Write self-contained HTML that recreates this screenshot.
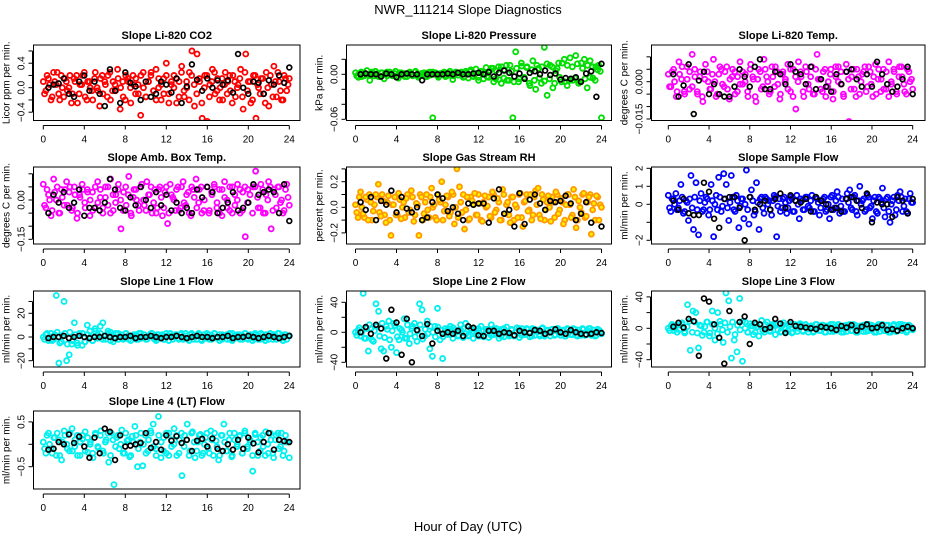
<!DOCTYPE html>
<html><head><meta charset="utf-8"><style>
html,body{margin:0;padding:0;background:#fff;}
svg{display:block;font-family:"Liberation Sans",Arial,sans-serif;}
</style></head><body>
<svg id="chart" width="936" height="540" viewBox="0 0 936 540" xmlns="http://www.w3.org/2000/svg">
<rect x="0" y="0" width="936" height="540" fill="#fff"/>
<text x="468" y="14" text-anchor="middle" font-size="13">NWR_111214  Slope Diagnostics</text>
<text x="468" y="531" text-anchor="middle" font-size="13">Hour of Day (UTC)</text>
</svg>
<script>
// ---- data (time spans 0..24 h) ----
const titles = ["Slope Li-820 CO2","Slope Li-820 Pressure","Slope Li-820 Temp.","Slope Amb. Box Temp.","Slope Gas Stream RH","Slope Sample Flow","Slope Line 1 Flow","Slope Line 2 Flow","Slope Line 3 Flow","Slope Line 4 (LT) Flow"];
const units = ["Licor ppm per min.","kPa per min.","degrees C per min.","degrees C per min.","percent per min.","ml/min per min.","ml/min per min.","ml/min per min.","ml/min per min.","ml/min per min."];
const xTicks = [0,4,8,12,16,20,24];

const co2 = [0.1,-0.05,0.15,-0.2,0.25,0.05,-0.1,0.2,-0.15,0.1,0.0,-0.25,0.15,0.2,-0.1,0.05,0.25,-0.2,0.1,-0.05,0.15,0.0,-0.3,0.2,0.1,-0.15,0.25,-0.05,0.05,0.3,-0.35,0.1,-0.2,0.15,0.0,0.2,-0.1,0.05,-0.45,0.25,-0.15,0.1,0.2,-0.05,0.3,0.0,-0.2,0.15,0.4,-0.1,0.05,0.2,-0.25,0.1,0.35,-0.15,0.0,0.25,0.6,-0.3,0.55,0.1,-0.5,0.2,-0.55,0.05,0.3,-0.1,0.15,0.0,-0.2,0.25,0.1,-0.05,0.2,-0.15,0.05,0.3,-0.35,0.55,0.1,-0.25,0.2,-0.5,0.0,0.15,-0.1,0.25,-0.3,0.05,0.35,-0.15,0.1,-0.2,0.2,-0.05,0.15];
const co2B = [-0.1,0.2,0.05,-0.15,0.1,0.25,-0.2,0.0,0.15,-0.05,0.2,-0.1,0.1,-0.25,0.05,0.2,-0.15,0.1,0.0,-0.2,0.25,-0.05,0.15,-0.1,0.05,0.2,-0.2,0.1,-0.05,0.15,0.0,-0.15,0.2,0.1,-0.25,0.05,0.15,-0.1,0.2,0.0,-0.15,0.1,0.25,-0.05,-0.2,0.15,0.05,-0.1,0.2,-0.25,0.1,0.0,0.15,-0.15,0.25,-0.05,0.1,-0.2,0.2,0.05,-0.1,0.15,-0.25,0.0,0.2,-0.15,0.1,0.25,-0.05,-0.2,0.15,0.05,-0.1,0.2,-0.25,0.1,0.0,0.15,-0.15,0.25,-0.05,0.1,-0.2,0.2,0.05,-0.1,0.15,-0.25,0.0,0.2,-0.15,0.1,0.25,-0.05,-0.2,0.15,0.05];
const co2K = [0.0,0.05,0.07,0.15,-0.1,-0.15,0.1,0.2,-0.05,0.1,-0.1,-0.3,0.3,-0.05,-0.25,0.25,0.08,0.02,-0.2,0.1,-0.15,-0.1,0.1,0.05,-0.08,0.15,-0.25,0.02,0.38,0.13,-0.05,0.15,0.0,0.12,0.05,0.12,-0.08,0.55,0.0,-0.1,0.1,0.08,-0.1,0.12,0.05,0.2,0.08,0.33];
const pres = [0.002,-0.004,0.003,-0.002,0.005,-0.008,0.001,0.004,-0.003,0.002,-0.006,0.003,0.0,-0.002,0.004,-0.005,0.002,0.001,-0.003,0.003,-0.002,0.004,-0.004,0.001,0.002,-0.003,0.003,-0.058,0.002,-0.004,0.001,0.003,-0.002,0.004,-0.007,0.002,-0.001,0.003,-0.003,0.002,0.004,-0.002,0.001,-0.004,0.003,0.002,-0.003,0.005,0.008,-0.006,0.01,-0.012,0.006,-0.008,0.012,-0.058,0.03,-0.01,0.015,-0.005,0.01,-0.015,0.018,-0.02,0.008,-0.012,0.036,-0.028,0.012,-0.018,0.005,0.015,-0.01,0.02,-0.015,0.022,-0.008,0.025,-0.012,0.015,0.02,-0.018,0.018,-0.005,0.01,0.012,-0.058];
const presB = [-0.002,0.001,-0.003,0.002,0.0,-0.001,0.003,-0.002,0.001,-0.003,0.002,0.0,-0.002,0.003,-0.001,0.001,-0.002,0.002,0.0,-0.003,0.001,0.002,-0.001,0.003,-0.002,0.0,0.001,-0.003,0.002,-0.001,0.003,0.0,-0.002,0.001,0.002,-0.003,0.0,0.001,-0.002,0.003,-0.001,0.002,-0.004,0.004,-0.005,0.006,-0.003,0.007,-0.008,0.004,-0.006,0.009,-0.004,0.008,-0.01,0.005,-0.007,0.01,-0.005,0.012,-0.008,0.004,-0.01,0.008,-0.006,0.011,-0.004,0.009,-0.012,0.006,-0.008,0.012,-0.005,0.01,-0.009,0.014,-0.006,0.01,-0.012,0.008,-0.004,0.015,-0.01,0.012,-0.008,0.01,-0.005,0.014,-0.01,0.008,-0.006,0.012,-0.004,0.01,-0.008,0.006,0.004];
const presK = [0,0.001,0,0,-0.003,0.001,0,-0.004,0,0.001,0,0,-0.008,0,0,0,0,0.001,0,0.002,0,0,0.001,0.002,0,0.003,-0.003,0.002,0.005,0.002,-0.003,0.001,-0.006,0.002,0.004,0,0.005,-0.001,0.001,-0.007,-0.005,-0.006,-0.004,-0.01,0.001,0.004,-0.03,0.014];
const temp = [0.003,-0.002,0.005,-0.006,0.008,0.001,-0.004,0.006,-0.003,0.011,0.002,-0.005,0.004,-0.008,0.007,0.0,-0.003,0.009,-0.006,0.003,0.005,-0.002,0.006,-0.007,0.002,0.004,-0.004,0.008,-0.001,0.003,-0.006,0.007,0.001,-0.008,0.005,-0.003,0.009,0.002,-0.005,0.006,-0.002,0.004,-0.007,0.003,0.0,0.007,-0.004,0.005,-0.011,0.008,0.002,-0.006,0.004,-0.003,0.006,-0.005,0.011,0.001,-0.004,0.005,-0.002,0.003,-0.007,0.006,0.0,0.004,-0.006,0.007,-0.016,0.002,-0.003,0.005,-0.005,0.003,0.006,-0.002,0.004,-0.006,0.007,0.001,-0.004,0.005,-0.003,0.008,-0.001,0.004,-0.005,0.006,0.002,-0.004,0.005,0.0,-0.003];
const tempB = [-0.002,0.004,0.0,-0.004,0.003,0.006,-0.005,0.001,0.004,-0.002,0.005,-0.004,0.002,-0.006,0.001,0.004,-0.003,0.003,0.0,-0.005,0.006,-0.001,0.004,-0.003,0.001,0.005,-0.005,0.002,-0.001,0.004,0.0,-0.004,0.005,0.002,-0.006,0.001,0.004,-0.002,0.005,0.0,-0.004,0.002,0.006,-0.001,-0.005,0.004,0.001,-0.003,0.005,-0.006,0.002,0.0,0.004,-0.004,0.006,-0.001,0.002,-0.005,0.005,0.001,-0.003,0.004,-0.006,0.0,0.005,-0.004,0.002,0.006,-0.001,-0.005,0.004,0.001,-0.003,0.005,-0.006,0.002,0.0,0.004,-0.004,0.006,-0.001,0.002,-0.005,0.005,0.001,-0.003,0.004,-0.006,0.0,0.005,-0.004,0.002,0.006,-0.001,-0.005,0.004,0.001];
const tempK = [0.003,-0.006,-0.0015,0.007,-0.013,0.0005,0.004,-0.005,-0.001,-0.005,-0.006,-0.006,-0.002,0.005,0.002,-0.002,0.006,0.009,-0.003,-0.003,0.004,0.003,-0.001,0.007,0.004,0.003,-0.001,0.006,-0.003,0.001,-0.002,-0.004,0.003,-0.001,0.004,0.005,0.001,-0.002,0.003,-0.002,0.008,0.003,-0.001,-0.004,-0.002,0.001,0.006,-0.005];
const amb = [0.06,-0.03,0.02,-0.06,0.08,0.0,-0.05,0.04,-0.02,0.07,0.03,-0.04,0.05,-0.07,0.02,0.06,-0.01,0.04,-0.06,0.03,-0.03,0.07,0.01,-0.05,0.05,-0.02,0.08,-0.04,0.02,0.06,-0.11,0.03,-0.02,0.09,-0.06,0.04,0.0,-0.04,0.06,-0.02,0.07,0.02,-0.05,0.04,-0.03,0.05,-0.06,0.03,-0.09,0.06,0.01,-0.04,0.05,-0.03,0.07,-0.02,0.03,-0.06,0.04,0.08,-0.01,0.05,-0.04,0.17,-0.05,0.03,0.06,-0.03,0.04,-0.06,0.07,0.0,-0.04,0.05,-0.02,0.06,-0.05,0.03,-0.14,0.04,-0.18,0.05,0.11,-0.03,0.06,-0.05,0.02,0.07,-0.11,0.04,-0.03,0.05,0.0,-0.04,0.06,-0.02];
const ambB = [-0.02,0.04,0.0,-0.04,0.03,0.05,-0.05,0.01,0.04,-0.02,0.05,-0.03,0.02,-0.05,0.01,0.04,-0.03,0.03,0.0,-0.04,0.05,-0.01,0.04,-0.03,0.01,0.05,-0.05,0.02,-0.01,0.04,0.0,-0.04,0.05,0.02,-0.05,0.01,0.04,-0.02,0.05,0.0,-0.04,0.02,0.05,-0.01,-0.05,0.04,0.01,-0.03,0.05,-0.05,0.02,0.0,0.04,-0.04,0.05,-0.01,0.02,-0.05,0.05,0.01,-0.03,0.04,-0.05,0.0,0.05,-0.04,0.02,0.05,-0.01,-0.05,0.04,0.01,-0.03,0.05,-0.05,0.02,0.0,0.04,-0.04,0.05,-0.01,0.02,-0.05,0.05,0.01,-0.03,0.04,-0.05,0.0,0.05,-0.04,0.02,0.05,-0.01,-0.05,0.04,0.01];
const ambK = [-0.05,0.02,-0.01,0.03,-0.03,-0.01,0.04,-0.06,-0.03,-0.03,-0.04,-0.01,0.08,0.04,-0.03,-0.04,0.01,-0.02,0.05,0.0,-0.03,0.03,-0.02,0.02,-0.04,-0.01,-0.05,-0.03,-0.05,0.04,0.01,0.05,0.03,-0.05,-0.03,-0.01,0.03,-0.04,-0.03,-0.01,0.06,0.02,0.03,0.04,0.03,-0.05,0.06,-0.08];
const rh = [0.02,-0.08,0.12,-0.05,0.08,-0.1,0.04,-0.03,0.1,0.18,-0.07,0.05,-0.12,0.09,-0.22,0.02,-0.06,0.11,-0.09,0.04,0.07,-0.04,0.13,-0.11,0.03,-0.22,0.08,-0.05,0.1,-0.08,0.15,0.02,-0.1,0.06,0.2,-0.03,0.09,-0.07,0.12,-0.13,0.3,0.16,-0.04,-0.17,0.08,-0.09,0.05,0.11,-0.06,0.03,-0.11,0.09,0.01,-0.07,0.12,-0.04,0.07,-0.1,0.14,-0.05,0.04,-0.12,0.08,0.02,-0.08,0.11,-0.15,0.05,-0.03,0.1,-0.06,0.13,0.15,-0.09,0.06,-0.02,0.09,-0.11,0.04,0.12,-0.05,0.07,-0.13,0.02,0.1,-0.08,0.14,-0.16,0.05,-0.04,0.11,-0.07,0.08,-0.21,0.03,0.09,-0.1,0.0];
const rhB = [-0.04,0.08,0.0,-0.08,0.06,0.1,-0.1,0.02,0.08,-0.04,0.1,-0.06,0.04,-0.1,0.02,0.08,-0.06,0.06,0.0,-0.08,0.1,-0.02,0.08,-0.06,0.02,0.1,-0.1,0.04,-0.02,0.08,0.0,-0.08,0.1,0.04,-0.1,0.02,0.08,-0.04,0.1,0.0,-0.08,0.04,0.1,-0.02,-0.1,0.08,0.02,-0.06,0.1,-0.1,0.04,0.0,0.08,-0.08,0.1,-0.02,0.04,-0.1,0.1,0.02,-0.06,0.08,-0.1,0.0,0.1,-0.08,0.04,0.1,-0.02,-0.1,0.08,0.02,-0.06,0.1,-0.1,0.04,0.0,0.08,-0.08,0.1,-0.02,0.04,-0.1,0.1,0.02,-0.06,0.08,-0.1,0.0,0.1,-0.08,0.04,0.1,-0.02,-0.1,0.08,0.02];
const rhK = [0.04,-0.02,0.08,-0.1,0.05,0.02,0.13,-0.04,0.08,-0.01,-0.04,0.0,-0.1,-0.08,0.04,0.1,0.07,-0.03,0.0,-0.05,-0.1,0.03,0.02,0.03,0.03,-0.12,0.07,0.14,-0.05,-0.02,-0.15,0.11,-0.13,0.06,0.1,0.03,-0.02,0.05,0.04,0.05,0.09,0.03,-0.1,-0.05,0.04,-0.12,-0.32,-0.15];
const samp = [0.5,-0.4,0.3,0.6,-0.2,1.1,-0.5,0.2,-0.9,1.6,-1.4,1.2,-1.7,0.6,-0.3,0.4,-0.6,1.1,-1.8,0.5,1.5,-0.4,1.7,1.1,-0.9,1.6,-0.3,0.5,-1.3,0.3,-0.8,1.9,-1.1,0.8,-0.6,1.2,-1.4,0.4,-0.5,0.3,0.2,-0.6,0.5,-1.8,0.3,-0.2,0.4,-0.5,0.2,0.3,-0.4,0.5,-0.8,0.2,-0.3,0.4,-0.2,0.5,-0.4,0.3,-0.6,0.2,0.4,-0.3,-0.8,0.5,-0.2,0.7,-0.5,0.3,-0.4,0.6,0.8,-0.3,0.5,-0.6,1.0,0.2,-0.4,0.5,-0.2,-0.8,0.4,-0.5,0.3,0.9,-0.7,0.4,-1.0,0.2,-0.6,0.5,0.7,-0.4,0.3,-0.5,0.6,0.1];
const sampB = [-0.2,0.3,0.0,-0.3,0.2,0.4,-0.4,0.1,0.3,-0.2,0.4,-0.3,0.2,-0.4,0.1,0.3,-0.3,0.2,0.0,-0.3,0.4,-0.1,0.3,-0.2,0.1,0.4,-0.4,0.2,-0.1,0.3,0.0,-0.3,0.4,0.2,-0.4,0.1,0.3,-0.2,0.4,0.0,-0.3,0.2,0.4,-0.1,-0.4,0.3,0.1,-0.2,0.4,-0.4,0.2,0.0,0.3,-0.3,0.4,-0.1,0.2,-0.4,0.4,0.1,-0.2,0.3,-0.4,0.0,0.4,-0.3,0.2,0.4,-0.1,-0.4,0.3,0.1,-0.2,0.4,-0.4,0.2,0.0,0.3,-0.3,0.4,-0.1,0.2,-0.4,0.4,0.1,-0.2,0.3,-0.4,0.0,0.4,-0.3,0.2,0.4,-0.1,-0.4,0.3,0.1];
const sampK = [0.2,-0.3,0.3,-0.5,-0.6,-0.6,1.2,0.7,-0.8,-1.3,0.3,0.4,0.4,-0.2,-2.0,0.4,-0.3,0.0,0.2,-0.3,0.3,0.6,-0.2,0.5,0.2,0.1,0.3,-0.4,0.4,0.2,0.0,-0.3,-0.2,-0.4,0.3,0.4,0.2,-0.2,0.6,-1.0,0.1,0.0,0.0,-0.7,0.4,0.2,-0.5,0.3];
const line1 = [0,2,-3,3,-2,35,-22,-4,30,-20,-15,-6,12,-5,3,-7,-4,10,5,-3,7,2,9,12,-2,5,4,-4,3,-2,2,-1,3,-2,1,2,-2,3,-1,2,-2,1,3,-2,2,-1,2,-2,1,3,-2,2,-1,2,-2,3,-1,2,-2,1,3,-2,2,-1,2,-2,3,-1,2,-2,1,2,-2,3,-1,2,-2,1,3,-2,2,-1,2,-2,3,-1,2,-2,1,2,-2,3,-1,2,-2,1];
const line1B = [-2,3,0,-3,2,4,-5,1,3,-6,4,-3,2,-7,1,3,-4,2,0,-3,5,-1,3,-2,1,3,-3,2,-1,3,0,-2,3,1,-3,1,2,-2,3,0,-2,1,3,-1,-3,2,1,-2,3,-3,1,0,2,-2,3,-1,1,-3,3,1,-2,2,-3,0,3,-2,1,3,-1,-3,2,1,-2,3,-3,1,0,2,-2,3,-1,1,-3,3,1,-2,2,-3,0,3,-2,1,3,-1,-3,2,1];
const line1K = [-1,0,0,1,-1,0,1,0,-1,0,0,1,0,-1,0,0,1,-1,0,0,1,0,-1,0,0,1,0,-1,0,1,0,0,-1,0,0,1,-1,0,0,1,0,-1,0,1,0,-1,0,1];
const line2 = [0,3,-5,52,-8,-25,5,-12,38,28,-22,-25,8,15,-20,12,-27,-10,3,18,-8,-15,5,12,-12,38,30,-5,15,-22,-32,8,32,-10,-35,5,-3,8,-8,3,-5,10,-7,12,-4,5,-8,3,-5,8,-6,4,-7,10,-3,5,-8,4,-6,7,-5,3,-4,6,-7,5,-3,4,-6,5,-4,3,-5,6,-4,3,-5,4,-3,5,-4,3,-5,4,-3,5,-4,3,-4,4,-3,5,-4,3,-4,3,-2];
const line2B = [-4,6,0,-8,5,10,-10,2,8,-5,12,-7,4,-10,2,9,-6,5,0,-8,10,-2,8,-6,2,10,-9,4,-2,8,0,-6,7,3,-6,2,5,-3,6,0,-4,3,5,-2,-5,4,1,-3,5,-5,2,0,4,-4,5,-1,2,-5,5,1,-3,4,-5,0,5,-4,2,5,-1,-5,4,1,-3,5,-5,2,0,4,-4,5,-1,2,-5,5,1,-3,4,-5,0,5,-4,2,5,-1,-5,4,1];
const line2K = [0,7,-2,10,5,-35,30,13,-30,18,-40,3,-5,11,-15,2,-2,0,-2,2,-5,8,6,-4,-5,2,2,-2,0,-1,-4,2,0,-1,3,2,-2,0,4,0,-2,3,0,-2,-3,-2,0,-1];
const line3 = [0,3,-3,4,-2,5,-4,30,-28,22,20,-25,3,-5,8,-10,22,-15,20,5,-18,45,35,-38,-15,-30,38,-42,8,-5,3,-8,5,-10,10,-5,8,-3,5,-8,6,-4,7,-5,3,-6,5,-4,6,-3,4,-5,3,-4,5,-3,4,-5,3,-4,5,-3,4,-5,3,-4,5,-3,4,-5,3,-4,5,-3,4,-5,3,-4,5,-3,4,-5,3,-4,5,-3,4,-3,3,-2];
const line3B = [-3,5,0,-5,4,7,-6,2,9,-5,8,-6,4,-9,2,8,-6,5,0,-7,9,-2,7,-5,2,8,-8,4,-2,9,0,-5,6,3,-5,2,4,-3,5,0,-4,3,5,-2,-5,4,1,-3,5,-5,2,0,4,-4,5,-1,2,-5,5,1,-3,4,-5,0,5,-4,2,5,-1,-5,4,1,-3,5,-5,2,0,4,-4,5,-1,2,-5,5,1,-3,4,-5,0,5,-4,2,5,-1,-5,4,1];
const line3K = [2,7,1,12,9,-35,38,34,5,-12,-45,22,-55,8,15,-20,7,5,-1,1,12,6,-6,8,3,2,1,0,-1,2,1,0,-2,3,1,4,-3,2,5,0,1,4,-2,-1,-3,0,2,0];
const line4 = [0.05,-0.2,0.25,-0.1,0.15,-0.25,0.1,-0.35,0.3,0.0,-0.15,0.35,-0.05,0.2,-0.25,0.12,0.28,-0.18,0.05,-0.3,0.22,-0.08,0.3,-0.2,0.1,-0.4,0.25,-0.9,0.15,-0.1,0.32,-0.2,0.08,-0.28,0.18,0.4,-0.5,0.05,-0.48,0.2,-0.15,0.3,0.45,-0.1,0.62,-0.3,0.15,-0.2,0.25,-0.05,0.35,-0.25,0.1,-0.7,0.2,0.45,-0.15,0.28,-0.3,0.05,0.22,-0.2,0.15,-0.1,0.3,-0.25,0.08,-0.35,0.2,0.45,-0.15,0.1,-0.28,0.25,-0.05,0.18,-0.2,0.3,-0.1,0.05,-0.6,0.22,-0.25,0.15,-0.05,0.28,-0.2,0.1,-0.3,0.2,-0.1,0.25,-0.15,0.05,-0.3];
const line4B = [-0.1,0.2,0.0,-0.2,0.15,0.25,-0.25,0.05,0.2,-0.1,0.25,-0.15,0.1,-0.25,0.05,0.2,-0.15,0.15,0.0,-0.2,0.25,-0.05,0.2,-0.15,0.05,0.25,-0.25,0.1,-0.05,0.2,0.0,-0.2,0.25,0.1,-0.25,0.05,0.2,-0.1,0.25,0.0,-0.2,0.1,0.25,-0.05,-0.25,0.2,0.05,-0.15,0.25,-0.25,0.1,0.0,0.2,-0.2,0.25,-0.05,0.1,-0.25,0.25,0.05,-0.15,0.2,-0.25,0.0,0.25,-0.2,0.1,0.25,-0.05,-0.25,0.2,0.05,-0.15,0.25,-0.25,0.1,0.0,0.2,-0.2,0.25,-0.05,0.1,-0.25,0.25,0.05,-0.15,0.2,-0.25,0.0,0.25,-0.2,0.1,0.25,-0.05,-0.25,0.2,0.05];
const line4K = [-0.12,-0.1,0.05,0.0,0.22,0.03,0.17,-0.05,-0.3,0.15,-0.2,0.35,0.28,-0.35,0.2,-0.05,-0.03,0.0,0.03,0.25,-0.08,0.05,-0.12,0.2,0.08,0.18,0.03,0.1,-0.15,0.08,0.12,-0.05,0.13,-0.1,-0.15,0.0,-0.12,0.1,-0.1,0.15,0.02,-0.18,0.05,0.25,-0.12,0.1,0.07,0.05];

const yTicks = [[-0.4,-0.2,0,0.2,0.4,0.6],[-0.06,-0.04,-0.02,0,0.02],[-0.015,-0.01,-0.005,0,0.005,0.01],[-0.15,-0.1,-0.05,0,0.05,0.1],[-0.2,-0.1,0,0.1,0.2,0.3],[-2,-1,0,1,2],[-20,-10,0,10,20,30],[-40,-20,0,20,40],[-40,-20,0,20,40],[-0.5,0,0.5]];
const yLabelVals = [[-0.4,0,0.4],[-0.06,0],[-0.015,0],[-0.15,0],[-0.2,0,0.2],[-2,0,1,2],[-20,0,20],[-40,0,40],[-40,0,40],[-0.5,0.5]];
const yLabelText = [["\u22120.4","0.0","0.4"],["\u22120.06","0.00"],["\u22120.015","0.000"],["\u22120.15","0.00"],["\u22120.2","0.0","0.2"],["\u22122","0","1","2"],["\u221220","0","20"],["\u221240","0","40"],["\u221240","0","40"],["\u22120.5","0.5"]];
const seriesC = [co2,pres,temp,amb,rh,samp,line1,line2,line3,line4];
const seriesB = [co2B,presB,tempB,ambB,rhB,sampB,line1B,line2B,line3B,line4B];
const seriesK = [co2K,presK,tempK,ambK,rhK,sampK,line1K,line2K,line3K,line4K];

// ---- layout (pixels, not data) ----
const cols = [{l:33.5,r:300,x0:43.3,x1:289.3},{l:346.5,r:611.5,x0:355.5,x1:601.5},{l:651.5,r:925,x0:668.3,x1:912.7}];
const rows = [{t:45,b:120.5},{t:167,b:244},{t:291,b:367},{t:411,b:489}];
const ycal = [[0,87.7,0.4,63.2],[0,74.3,-0.06,119.3],[0,81.7,-0.015,119],[0,200,-0.15,239.3],[0,207.3,0.2,181.7],[0,204.3,2,168.3],[0,337,20,313.3],[0,332.3,40,302.3],[0,328.3,40,296.9],[0,444.3,0.5,421.9]];
const colors = [["#ff0000","none"],["#00dd00","none"],["#ff00ff","none"],["#ff00ff","none"],["#ff9900","#ffee00"],["#0000ff","none"],["#00f0f0","none"],["#00f0f0","none"],["#00f0f0","none"],["#00f0f0","none"]];

const NS = "http://www.w3.org/2000/svg";
const svg = document.getElementById("chart");
function mk(tag, attrs, parent){const e=document.createElementNS(NS,tag);for(const k in attrs)e.setAttribute(k,attrs[k]);(parent||svg).appendChild(e);return e;}

seriesC.forEach((vals, p) => {
  const c = cols[p%3], r = rows[Math.floor(p/3)];
  const cal = ycal[p];
  const ys = v => cal[1] + (v-cal[0])*(cal[3]-cal[1])/(cal[2]-cal[0]);
  const xs = h => c.x0 + h*(c.x1-c.x0)/24;
  const g = mk("g",{});
  
  
  const clipId = "clip"+p;
  const cp = mk("clipPath",{id:clipId},g);
  mk("rect",{x:c.l,y:r.t,width:c.r-c.l,height:r.b-r.t},cp);
  const tt = mk("text",{x:(c.l+c.r)/2,y:r.t-6,"text-anchor":"middle","font-size":"11","font-weight":"bold"},g);
  tt.textContent = titles[p];
  
  
  const pg = mk("g",{"clip-path":"url(#"+clipId+")"},g);
  
  
  const vb = seriesB[p];
  vb.forEach((v,i) => {
    const h = 0.12 + 23.76*i/(vb.length-1);
    const e = mk("circle",{cx:xs(h),cy:ys(v),r:2.5,fill:colors[p][1],stroke:colors[p][0],"stroke-width":1.8},pg);
    
    
  });
  vals.forEach((v,i) => {
    const h = 24*i/(vals.length-1);
    const e = mk("circle",{cx:xs(h),cy:ys(v),r:2.5,fill:colors[p][1],stroke:colors[p][0],"stroke-width":1.8},pg);
    
    
  });
  const kv = seriesK[p];
  kv.forEach((v,i) => {
    const h = 0.5 + 23.5*i/(kv.length-1);
    const e = mk("circle",{cx:xs(h),cy:ys(v),r:2.4,fill:"none",stroke:"#000","stroke-width":1.7},pg);
    
    
  });
  const bx = mk("rect",{x:c.l,y:r.t,width:c.r-c.l,height:r.b-r.t,fill:"none",stroke:"#000","stroke-width":1},g);
  
  
  const ax = mk("g",{},g);
  
  
  const ay = r.b+5;
  mk("line",{x1:xs(0),x2:xs(24),y1:ay,y2:ay,stroke:"#000"},ax);
  xTicks.forEach(h => {
    mk("line",{x1:xs(h),x2:xs(h),y1:ay,y2:ay+4,stroke:"#000"},ax);
    const t = mk("text",{x:xs(h),y:ay+17,"text-anchor":"middle","font-size":"10"},ax);
    t.textContent = h;
  });
  const yg = mk("g",{},g);
  
  
  const tk = yTicks[p];
  mk("line",{x1:c.l-1,x2:c.l-1,y1:ys(tk[0]),y2:ys(tk[tk.length-1]),stroke:"#000"},yg);
  tk.forEach(v => mk("line",{x1:c.l-5,x2:c.l-1,y1:ys(v),y2:ys(v),stroke:"#000"},yg));
  yLabelVals[p].forEach((v,i) => {
    const x = c.l-9, y = ys(v);
    const t = mk("text",{x:x,y:y,"text-anchor":"middle","font-size":"10",transform:"rotate(-90 "+x+" "+y+")"},yg);
    t.textContent = yLabelText[p][i];
  });
  const ux = c.l-24, uy = (r.t+r.b)/2;
  const ut = mk("text",{x:ux,y:uy,"text-anchor":"middle","font-size":"10",transform:"rotate(-90 "+ux+" "+uy+")"},g);
  ut.textContent = units[p];
  
  
});
</script>
</body></html>
